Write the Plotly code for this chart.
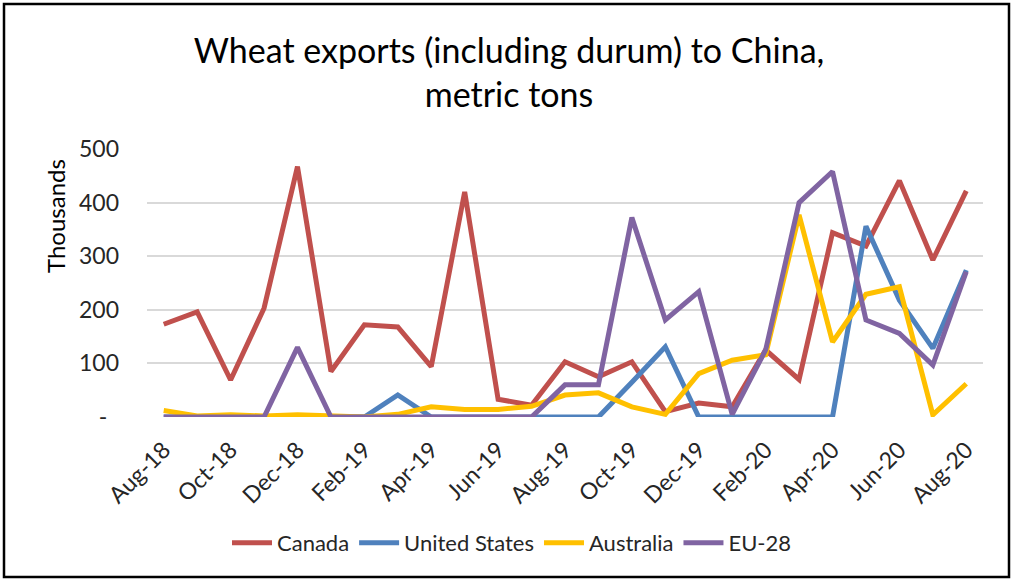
import plotly.graph_objects as go

months = ["Aug-18", "Sep-18", "Oct-18", "Nov-18", "Dec-18", "Jan-19", "Feb-19", "Mar-19",
          "Apr-19", "May-19", "Jun-19", "Jul-19", "Aug-19", "Sep-19", "Oct-19", "Nov-19",
          "Dec-19", "Jan-20", "Feb-20", "Mar-20", "Apr-20", "May-20", "Jun-20", "Jul-20", "Aug-20"]

canada = [173, 196, 69, 203, 467, 85, 172, 168, 94, 420, 33, 22, 103, 75, 103, 10,
          26, 19, 125, 70, 344, 319, 441, 293, 422]
united_states = [0, 0, 0, 0, 0, 0, 0, 41, 0, 0, 0, 0, 0, 0, 65, 131,
                 0, 0, 0, 0, 0, 356, 218, 128, 274]
australia = [12, 2, 4, 2, 4, 1, 0, 5, 19, 14, 14, 20, 41, 45, 19, 5,
             81, 106, 116, 377, 140, 229, 243, 4, 62]
eu28 = [0, 0, 0, 0, 130, 0, 0, 0, 0, 0, 0, 0, 60, 60, 372, 181,
        234, 5, 125, 400, 458, 181, 156, 97, 271]

x_tick_labels = months[::2]
y_tick_values = [0, 100, 200, 300, 400, 500]
y_tick_labels = ["-\u00a0\u00a0", "100", "200", "300", "400", "500"]

series = [
    ("Canada", canada, "#C0504D"),
    ("United States", united_states, "#4F81BD"),
    ("Australia", australia, "#FFC000"),
    ("EU-28", eu28, "#8064A2"),
]

FONT = "Lato"

fig = go.Figure()
for name, vals, color in series:
    fig.add_trace(go.Scatter(
        x=months, y=vals, name=name, mode="lines",
        line=dict(color=color, width=5),
    ))

fig.update_layout(
    width=1013, height=580,
    margin=dict(l=147, r=30, t=149, b=163),
    paper_bgcolor="white", plot_bgcolor="white",
    font=dict(family=FONT, color="#262626", size=23),
    title=dict(
        text="Wheat exports (including durum) to China,<br>metric tons",
        x=509 / 1013, xanchor="center", y=1 - 63 / 580, yanchor="middle",
        font=dict(family=FONT, size=34, color="#000000"),
    ),
    showlegend=True,
    legend=dict(
        orientation="h", x=(512 - 147) / 836, xanchor="center",
        y=(417 - 543) / 268, yanchor="middle",
        font=dict(family=FONT, size=22, color="#262626"),
        itemwidth=40, tracegroupgap=0,
    ),
    xaxis=dict(
        type="category", categoryorder="array", categoryarray=months,
        range=[-0.5, len(months) - 0.5],
        tickmode="array", tickvals=x_tick_labels, ticktext=x_tick_labels,
        tickangle=-45, showgrid=False, showline=False, zeroline=False,
        ticks="", tickfont=dict(size=23), ticklabelstandoff=14,
    ),
    yaxis=dict(
        range=[0, 500], tickmode="array", tickvals=y_tick_values, ticktext=y_tick_labels,
        showgrid=True, gridcolor="#D9D9D9", gridwidth=1.5,
        zeroline=False, showline=False, ticks="", ticklabelstandoff=27,
        tickfont=dict(size=23),
    ),
    annotations=[dict(
        text="Thousands", textangle=-90, showarrow=False,
        xref="paper", yref="paper", x=(55 - 147) / 836, y=(417 - 216) / 268,
        xanchor="center", yanchor="middle",
        font=dict(family=FONT, size=24, color="#000000"),
    )],
    shapes=[dict(
        type="rect", xref="paper", yref="paper",
        x0=(4 - 147) / 836, x1=(1009 - 147) / 836,
        y0=(417 - 577) / 268, y1=(417 - 4) / 268,
        line=dict(color="black", width=2.5), fillcolor="rgba(0,0,0,0)", layer="below",
    )],
)

fig.write_html("out.html", config={"displayModeBar": False},
               post_script="document.body.style.margin='0';")
